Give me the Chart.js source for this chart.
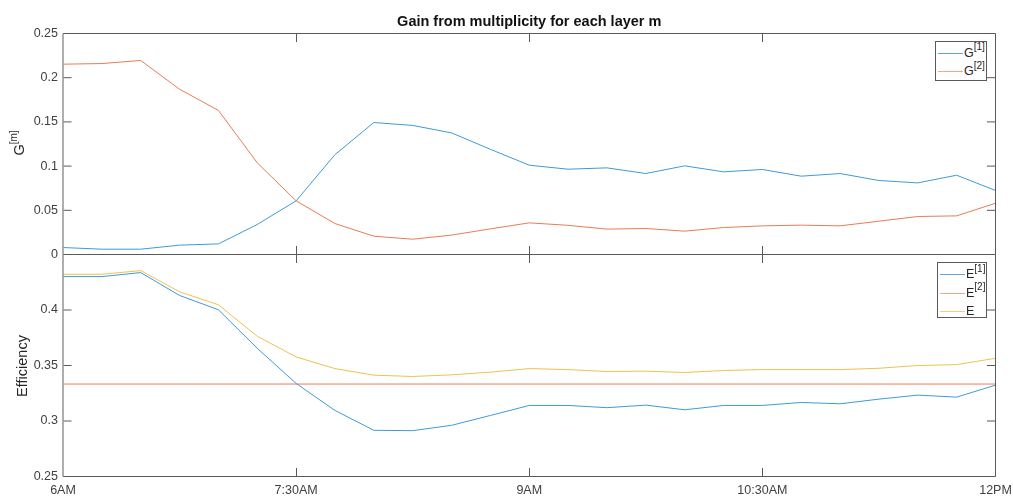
<!DOCTYPE html>
<html>
<head>
<meta charset="utf-8">
<script src="https://cdn.jsdelivr.net/npm/chart.js@4.4.1/dist/chart.umd.min.js"></script>
<style>
  html, body { margin:0; padding:0; background:#fff; }
  #wrap { position:relative; width:1013px; height:496px; overflow:hidden; background:#fff;
          font-family:'Liberation Sans', Arial, Helvetica, sans-serif; color:#262626; }
  canvas { position:absolute; left:0; }
  #cTop { top:0; }
  #cBot { top:240px; }
  .ylab { position:absolute; white-space:nowrap; transform:translate(-50%,-50%) rotate(-90deg); color:#262626; }
  .legend { position:absolute; background:#fff; border:1px solid #5a5a5a; box-sizing:border-box; font-size:12.5px; }
  .legend .row { position:absolute; left:0; height:16px; }
  .legend .ln { position:absolute; left:2px; width:25px; height:1px; top:0; }
  .legend .tx { position:absolute; left:28px; top:-8px; line-height:16px; white-space:nowrap; }
  sup { font-size:10px; line-height:0; position:relative; top:-1px; vertical-align:super; }
</style>
</head>
<body>
<div id="wrap">
  <canvas id="cTop" width="1013" height="262"></canvas>
  <canvas id="cBot" width="1013" height="256"></canvas>
  <div class="ylab" style="left:19px; top:143px; font-size:14.5px;">G<sup>[m]</sup></div>
  <div class="ylab" style="left:22px; top:366px; font-size:14.5px;">Efficiency</div>
  <div class="legend" style="left:935px; top:41px; width:52px; height:40px;">
    <div class="row" style="top:10.5px;"><div class="ln" style="background:#5aa8de;"></div><div class="tx">G<sup>[1]</sup></div></div>
    <div class="row" style="top:29px;"><div class="ln" style="background:#efa88c;"></div><div class="tx">G<sup>[2]</sup></div></div>
  </div>
  <div class="legend" style="left:937px; top:262px; width:50px; height:56px;">
    <div class="row" style="top:11px;"><div class="ln" style="background:#5aa8de;"></div><div class="tx">E<sup>[1]</sup></div></div>
    <div class="row" style="top:29.5px;"><div class="ln" style="background:#efa88c;"></div><div class="tx">E<sup>[2]</sup></div></div>
    <div class="row" style="top:48px;"><div class="ln" style="background:#f3cf7c;"></div><div class="tx">E</div></div>
  </div>
</div>
<script>
// ---- data ----
const minutes = [0,15,30,45,60,75,90,105,120,135,150,165,180,195,210,225,240,255,270,285,300,315,330,345,360];
const tickMinutes = [0,90,180,270,360];
const tickLabels = ["6AM","7:30AM","9AM","10:30AM","12PM"];
const gTicks = [0,0.05,0.1,0.15,0.2,0.25];
const eTicks = [0.25,0.3,0.35,0.4,0.45];

const g1 = [0.0079,0.006,0.006,0.0106,0.012,0.034,0.0607,0.113,0.1493,0.146,0.1376,0.119,0.101,0.0965,0.098,0.0916,0.1003,0.0935,0.0962,0.0886,0.0916,0.0837,0.081,0.0897,0.0724];
const g2 = [0.2153,0.216,0.2195,0.187,0.163,0.1037,0.0607,0.035,0.0207,0.0173,0.0219,0.029,0.0358,0.033,0.0287,0.0294,0.0264,0.0305,0.0324,0.0332,0.0324,0.0377,0.043,0.0437,0.058];
const e1 = [0.4301,0.4301,0.4337,0.4131,0.4002,0.3655,0.3338,0.3095,0.2916,0.2913,0.2961,0.305,0.314,0.314,0.312,0.3143,0.3101,0.314,0.314,0.3167,0.3155,0.3197,0.3233,0.3215,0.3323];
const e2 = [0.3333,0.3333,0.3333,0.3333,0.3333,0.3333,0.3333,0.3333,0.3333,0.3333,0.3333,0.3333,0.3333,0.3333,0.3333,0.3333,0.3333,0.3333,0.3333,0.3333,0.3333,0.3333,0.3333,0.3333,0.3333];
const e  = [0.4322,0.4322,0.4355,0.4164,0.4047,0.3763,0.3577,0.3472,0.3413,0.3401,0.3416,0.344,0.3472,0.3463,0.3446,0.3449,0.3437,0.3455,0.3463,0.3463,0.3463,0.3475,0.35,0.3508,0.3565];

const BLUE = '#3f9ad8', ORANGE = '#e87c55', YELLOW = '#f0c050';

Chart.defaults.font.family = "'Liberation Sans', Arial, Helvetica, sans-serif";
Chart.defaults.color = '#404040';

const pts = arr => arr.map((v,i) => ({x: minutes[i], y: v}));

const framePlugin = {
  id: 'frame',
  afterDatasetsDraw(chart) {
    const {ctx, chartArea: a, scales: {x, y}} = chart;
    const TL = 8.5;
    ctx.save();
    ctx.strokeStyle = '#5a5a5a';
    ctx.lineWidth = 1;
    ctx.beginPath();
    ctx.moveTo(a.left, a.top); ctx.lineTo(a.right, a.top); ctx.lineTo(a.right, a.bottom); ctx.lineTo(a.left, a.bottom);
    ctx.stroke();
    ctx.beginPath();
    x.ticks.forEach(t => {
      const px = Math.round(x.getPixelForValue(t.value)) + 0.5;
      if (px <= a.left + 1 || px >= a.right - 1) return;
      ctx.moveTo(px, a.top); ctx.lineTo(px, a.top + TL);
      ctx.moveTo(px, a.bottom); ctx.lineTo(px, a.bottom - TL);
    });
    y.ticks.forEach(t => {
      const py = y.getPixelForValue(t.value);
      if (py <= a.top + 1 || py >= a.bottom - 1) return;
      ctx.moveTo(a.left, py); ctx.lineTo(a.left + TL, py);
      ctx.moveTo(a.right, py); ctx.lineTo(a.right - TL, py);
    });
    ctx.stroke();
    ctx.strokeStyle = '#9a9a9a';
    ctx.lineWidth = 1.6;
    ctx.beginPath();
    ctx.moveTo(a.left, a.top); ctx.lineTo(a.left, a.bottom);
    ctx.stroke();
    ctx.restore();
  }
};

function xScale(showLabels, height, pad) {
  return {
    type: 'linear', min: 0, max: 360,
    afterBuildTicks: s => { s.ticks = tickMinutes.map(v => ({value: v})); },
    ticks: {
      display: showLabels, autoSkip: false, maxRotation: 0, padding: pad,
      font: {size: 12.5}, color: '#404040',
      callback: v => tickLabels[tickMinutes.indexOf(v)]
    },
    grid: {display: false, drawTicks: false},
    border: {display: false},
    afterFit: s => { s.height = height; s.paddingLeft = 0; s.paddingRight = 0; }
  };
}
function yScale(min, max, tickVals, hideTop) {
  return {
    type: 'linear', min: min, max: max,
    afterBuildTicks: s => { s.ticks = tickVals.map(v => ({value: v})); },
    ticks: {
      padding: 5, font: {size: 12.5}, color: '#404040',
      callback: v => (hideTop && Math.abs(v - max) < 1e-9) ? '' : String(+v.toFixed(2))
    },
    grid: {display: false, drawTicks: false},
    border: {display: false},
    afterFit: s => { s.width = 63; s.paddingTop = 0; s.paddingBottom = 0; }
  };
}
const lineDs = (label, data, color) => ({
  label, data: pts(data), borderColor: color, backgroundColor: color,
  borderWidth: 1, pointRadius: 0, tension: 0, fill: false
});

new Chart(document.getElementById('cTop'), {
  type: 'line',
  data: { datasets: [ lineDs('G[1]', g1, BLUE), lineDs('G[2]', g2, ORANGE) ] },
  options: {
    responsive: false, animation: false, devicePixelRatio: 1,
    layout: {padding: {left: 0, right: 17.5, top: 0, bottom: 0}},
    plugins: {
      legend: {display: false}, tooltip: {enabled: false},
      title: {display: true, fullSize: false, text: 'Gain from multiplicity for each layer m',
              font: {size: 14.5, weight: 'bold'}, color: '#111',
              padding: {top: 13, bottom: 3.1}}
    },
    scales: { x: xScale(false, 7.5, 0), y: yScale(0, 0.25, gTicks, false) }
  },
  plugins: [framePlugin]
});

new Chart(document.getElementById('cBot'), {
  type: 'line',
  data: { datasets: [ lineDs('E[1]', e1, BLUE), lineDs('E[2]', e2, ORANGE), lineDs('E', e, YELLOW) ] },
  options: {
    responsive: false, animation: false, devicePixelRatio: 1,
    layout: {padding: {left: 0, right: 17.5, top: 14.5, bottom: 0}},
    plugins: { legend: {display: false}, tooltip: {enabled: false}, title: {display: false} },
    scales: { x: xScale(true, 19.5, 6.5), y: yScale(0.25, 0.45, eTicks, true) }
  },
  plugins: [framePlugin]
});
</script>
</body>
</html>
